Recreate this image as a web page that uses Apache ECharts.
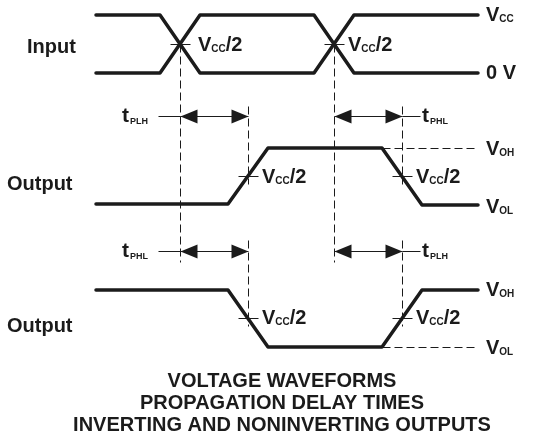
<!DOCTYPE html>
<html>
<head>
<meta charset="utf-8">
<script src="https://cdn.jsdelivr.net/npm/echarts@6/dist/echarts.min.js"></script>
<style>
  html, body { margin: 0; background: #fff; }
  #chart { width: 535px; height: 439px; }
</style>
</head>
<body>
<div id="chart"></div>
<script>
// waveform break points: time along the diagram, level = vertical position of each trace
const timeIn = [96, 160, 200, 314, 354, 478];
const inputA = [15, 15, 73, 73, 15, 15];
const inputB = [73, 73, 15, 15, 73, 73];
const timeOut = [96, 228, 268, 382, 422, 478];
const output1 = [204, 204, 148, 148, 205, 205];
const output2 = [290, 290, 347, 347, 290, 290];

// Vcc/2 crossing times (input edges, output edges)
const crossIn = [180, 334];
const crossOut = [248, 402];

// delay arrows: [from, to, row]
const delays = [
  [crossIn[0], crossOut[0], 116], [crossIn[1], crossOut[1], 116],
  [crossIn[0], crossOut[0], 251], [crossIn[1], crossOut[1], 251]
];

// guide lines: [x1, y1, x2, y2, dashed]
const guides = [
  [180, 44, 180, 262, 1], [334, 44, 334, 262, 1],
  [248, 106, 248, 184, 1], [402, 106, 402, 184, 1],
  [248, 240, 248, 326, 1], [402, 240, 402, 326, 1],
  [382, 148, 478, 148, 1], [382, 347, 478, 347, 1],
  // leaders to t labels
  [158, 116, 180, 116, 0], [402, 116, 420, 116, 0],
  [158, 251, 180, 251, 0], [402, 251, 420, 251, 0],
  // short ticks at the Vcc/2 crossings
  [170, 44, 190, 44, 0], [324, 44, 344, 44, 0],
  [238, 176, 258, 176, 0], [392, 176, 412, 176, 0],
  [238, 318, 258, 318, 0], [392, 318, 412, 318, 0]
];

const titleLines = ['VOLTAGE WAVEFORMS', 'PROPAGATION DELAY TIMES', 'INVERTING AND NONINVERTING OUTPUTS'];

const ink = '#1b1b1b';
const font = 'Liberation Sans, Arial, sans-serif';

const rich = {
  b: { fontSize: 20, fontWeight: 'bold', fontFamily: font, color: ink, lineHeight: 24 },
  s: { fontSize: 10, fontWeight: 'bold', fontFamily: font, color: ink, lineHeight: 24, verticalAlign: 'bottom', padding: [0, 0, 3, 0] },
  t: { fontSize: 21, fontWeight: 'bold', fontFamily: font, color: ink, lineHeight: 24 },
  ts: { fontSize: 9, fontWeight: 'bold', fontFamily: font, color: ink, lineHeight: 24, verticalAlign: 'bottom', padding: [0, 0, 2, 1] }
};

function label(x, y, text, align) {
  return {
    type: 'text', x: x, y: y, z: 10,
    style: { text: text, rich: rich, align: align || 'left', verticalAlign: 'middle', fill: ink }
  };
}

const half = '{b|V}{s|CC}{b|/2}';
const graphics = [
  label(27, 47, '{b|Input}'),
  label(7, 184, '{b|Output}'),
  label(7, 326, '{b|Output}'),
  label(198, 45, half), label(348, 45, half),
  label(262, 177, half), label(416, 177, half),
  label(262, 318, half), label(416, 318, half),
  label(486, 15, '{b|V}{s|CC}'), label(486, 73, '{b|0 V}'),
  label(486, 149, '{b|V}{s|OH}'), label(486, 207, '{b|V}{s|OL}'),
  label(486, 290, '{b|V}{s|OH}'), label(486, 348, '{b|V}{s|OL}'),
  label(122, 116, '{t|t}{ts|PLH}'), label(422, 116, '{t|t}{ts|PHL}'),
  label(122, 251, '{t|t}{ts|PHL}'), label(422, 251, '{t|t}{ts|PLH}')
];
titleLines.forEach(function (line, i) {
  graphics.push({
    type: 'text', x: 282, y: 381 + i * 22,
    style: { text: line, font: 'bold 20px ' + font, fill: ink, align: 'center', verticalAlign: 'middle' }
  });
});

function trace(times, levels) {
  return {
    type: 'line',
    data: times.map(function (t, i) { return [t, levels[i]]; }),
    showSymbol: false,
    silent: true,
    lineStyle: { color: ink, width: 3.5, cap: 'round', join: 'round' },
    z: 5
  };
}

function crisp(p) { return [Math.round(p[0]) + 0.5, Math.round(p[1]) + 0.5]; }

const myChart = echarts.init(document.getElementById('chart'));
const option = {
  animation: false,
  grid: { left: 0, right: 0, top: 0, bottom: 0 },
  xAxis: { type: 'value', min: 0, max: 535, show: false },
  yAxis: { type: 'value', min: 0, max: 439, inverse: true, show: false },
  graphic: graphics,
  series: [
    trace(timeIn, inputA),
    trace(timeIn, inputB),
    trace(timeOut, output1),
    trace(timeOut, output2),
    {
      type: 'custom',
      data: guides,
      silent: true,
      renderItem: function (params, api) {
        const a = crisp(api.coord([api.value(0), api.value(1)]));
        const b = crisp(api.coord([api.value(2), api.value(3)]));
        return {
          type: 'line',
          shape: { x1: a[0], y1: a[1], x2: b[0], y2: b[1] },
          style: { stroke: ink, lineWidth: 1, lineDash: api.value(4) ? [8, 4] : null }
        };
      }
    },
    {
      type: 'custom',
      data: delays,
      silent: true,
      renderItem: function (params, api) {
        const a = crisp(api.coord([api.value(0), api.value(2)]));
        const b = crisp(api.coord([api.value(1), api.value(2)]));
        const L = 17, H = 7;
        return {
          type: 'group',
          children: [
            { type: 'line', shape: { x1: a[0], y1: a[1], x2: b[0], y2: b[1] }, style: { stroke: ink, lineWidth: 1 } },
            { type: 'polygon', shape: { points: [[a[0], a[1]], [a[0] + L, a[1] - H], [a[0] + L, a[1] + H]] }, style: { fill: ink } },
            { type: 'polygon', shape: { points: [[b[0], b[1]], [b[0] - L, b[1] - H], [b[0] - L, b[1] + H]] }, style: { fill: ink } }
          ]
        };
      }
    }
  ]
};
myChart.setOption(option);
</script>
</body>
</html>
